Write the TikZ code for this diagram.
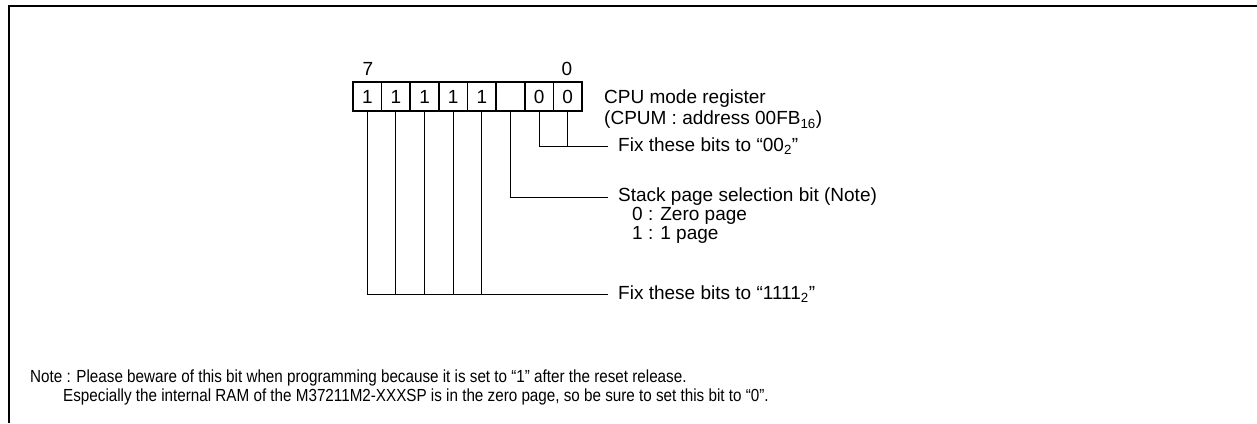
\documentclass[tikz,border=0pt]{standalone}
\usepackage{fontspec}
\setmainfont{Liberation Sans}
\newfontfamily\notefont[FakeStretch=0.87]{Liberation Sans}
\begin{document}
\begin{tikzpicture}[x=1pt,y=-1pt,
  cell/.style={draw,line width=1.6pt,minimum width=28.625pt,minimum height=29pt,inner sep=0pt,font=\fontsize{19}{22}\selectfont},
  lbl/.style={anchor=west,inner sep=0pt,font=\fontsize{19}{22}\selectfont},
  bitno/.style={inner sep=0pt,font=\fontsize{19}{22}\selectfont},
  conn/.style={line width=0.9pt},
  notetxt/.style={anchor=west,inner sep=0pt,font=\notefont\fontsize{17.5}{20}\selectfont}]
\useasboundingbox (0,0) rectangle (1257,423);
\draw[line width=2pt] (9.3,423) -- (9.3,6.2) -- (1257,6.2);
\foreach \i/\v in {7/1,6/1,5/1,4/1,3/1,2/{},1/0,0/0} {
  \node[cell] (b\i) at ({353+28.625*(7-\i)+14.3125},96.5) {\v};
}
\node[bitno] (n7) at (368,69) {7};
\node[bitno] (n0) at (567,69) {0};
\node[lbl] (cpu) at (604,98.5) {CPU mode register};
\node[lbl] (cpum) at (604,120) {(CPUM : address 00FB\textsubscript{16})};
\node[lbl] (fixB) at (618,146) {Fix these bits to “00\textsubscript{2}”};
\node[lbl] (stk) at (618,197) {Stack page selection bit (Note)};
\node[lbl] (zero) at (632,216) {0 : Zero page};
\node[lbl] (one) at (632,235) {1 : 1 page};
\node[lbl] (fixA) at (618,294) {Fix these bits to “1111\textsubscript{2}”};
\coordinate (eB) at ([xshift=-10pt]fixB.west);
\coordinate (eS) at ([xshift=-10pt]stk.west);
\coordinate (eA) at ([xshift=-10pt]fixA.west);
\draw[conn] (b1.south) |- (eB);
\draw[conn] (b0.south) -- (b0.south |- eB);
\draw[conn] (b2.south) |- (eS);
\draw[conn] (b7.south) |- (eA);
\foreach \i in {6,5,4,3} \draw[conn] (b\i.south) -- (b\i.south |- eA);
\node[notetxt] (note1) at (30,378) {Note : Please beware of this bit when programming because it is set to “1” after the reset release.};
\node[notetxt] (note2) at (63,397) {Especially the internal RAM of the M37211M2-XXXSP is in the zero page, so be sure to set this bit to “0”.};
\end{tikzpicture}
\end{document}
